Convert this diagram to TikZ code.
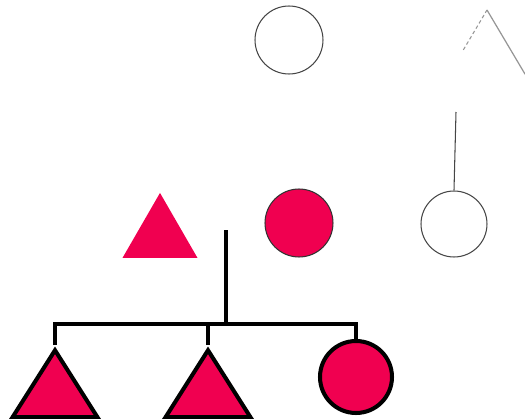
\documentclass[tikz,border=0pt]{standalone}
\usepackage{tikz}
\usetikzlibrary{calc,positioning,shapes.geometric}
\usepackage{xcolor}
\definecolor{affColor}{RGB}{240,0,80}
\definecolor{faintColor}{RGB}{70,70,70}
\definecolor{fadeColor}{RGB}{150,150,150}

\begin{document}
\begin{tikzpicture}[x=0.02cm, y=-0.02cm,
        female/.style={draw, circle, inner sep=0pt, minimum size=#1},
        male/.style={isosceles triangle, shape border rotate=90, isosceles triangle stretches, inner sep=0pt, anchor=apex},
        affected/.style={fill=affColor},
        faint/.style={draw=faintColor, line width=0.6pt},
        bold/.style={draw=black, line width=2.3pt},
        link/.style={line width=2.3pt, black}
      ]
      \useasboundingbox (0,0) rectangle (525,419);
      % grandparents
      \node[female=1.36cm, faint] (gmother) at (289,40) {};
      \node[male, minimum width=1.5cm, minimum height=1.26cm] (gfather) at (487,10) {};
      \coordinate (gline) at (456,112);
      % parents
      \node[male, affected, minimum width=1.5cm, minimum height=1.3cm] (father) at (160,192) {};
      \node[female=1.36cm, affected, draw=black!80, line width=0.6pt] (mother) at (299,223) {};
      \node[female=1.32cm, faint] (aunt) at (454,224) {};
      \coordinate (mate) at (226,230);
      \coordinate (sib) at (226,324);
      % children
      \node[male, affected, bold, minimum width=1.7cm, minimum height=1.34cm] (son1) at (55,345) {};
      \node[male, affected, bold, minimum width=1.7cm, minimum height=1.34cm] (son2) at (208,345) {};
      \node[female=1.44cm, affected, bold] (daughter) at (356,377) {};

      \draw[draw=fadeColor, line width=0.6pt, dash pattern=on 2pt off 1.5pt] ($(gfather.apex)!0.62!(gfather.left corner)$) -- (gfather.apex);
      \draw[draw=fadeColor, line width=0.7pt] (gfather.apex) -- (gfather.right corner);
      \draw[faint] (gline) -- (aunt.north);
      \draw[link] (mate) -- (sib);
      \draw[link] (son1.apex) |- (sib) -| (daughter.north);
      \draw[link] (son2.apex) -- (son2.apex |- sib);
    \end{tikzpicture}
\end{document}
